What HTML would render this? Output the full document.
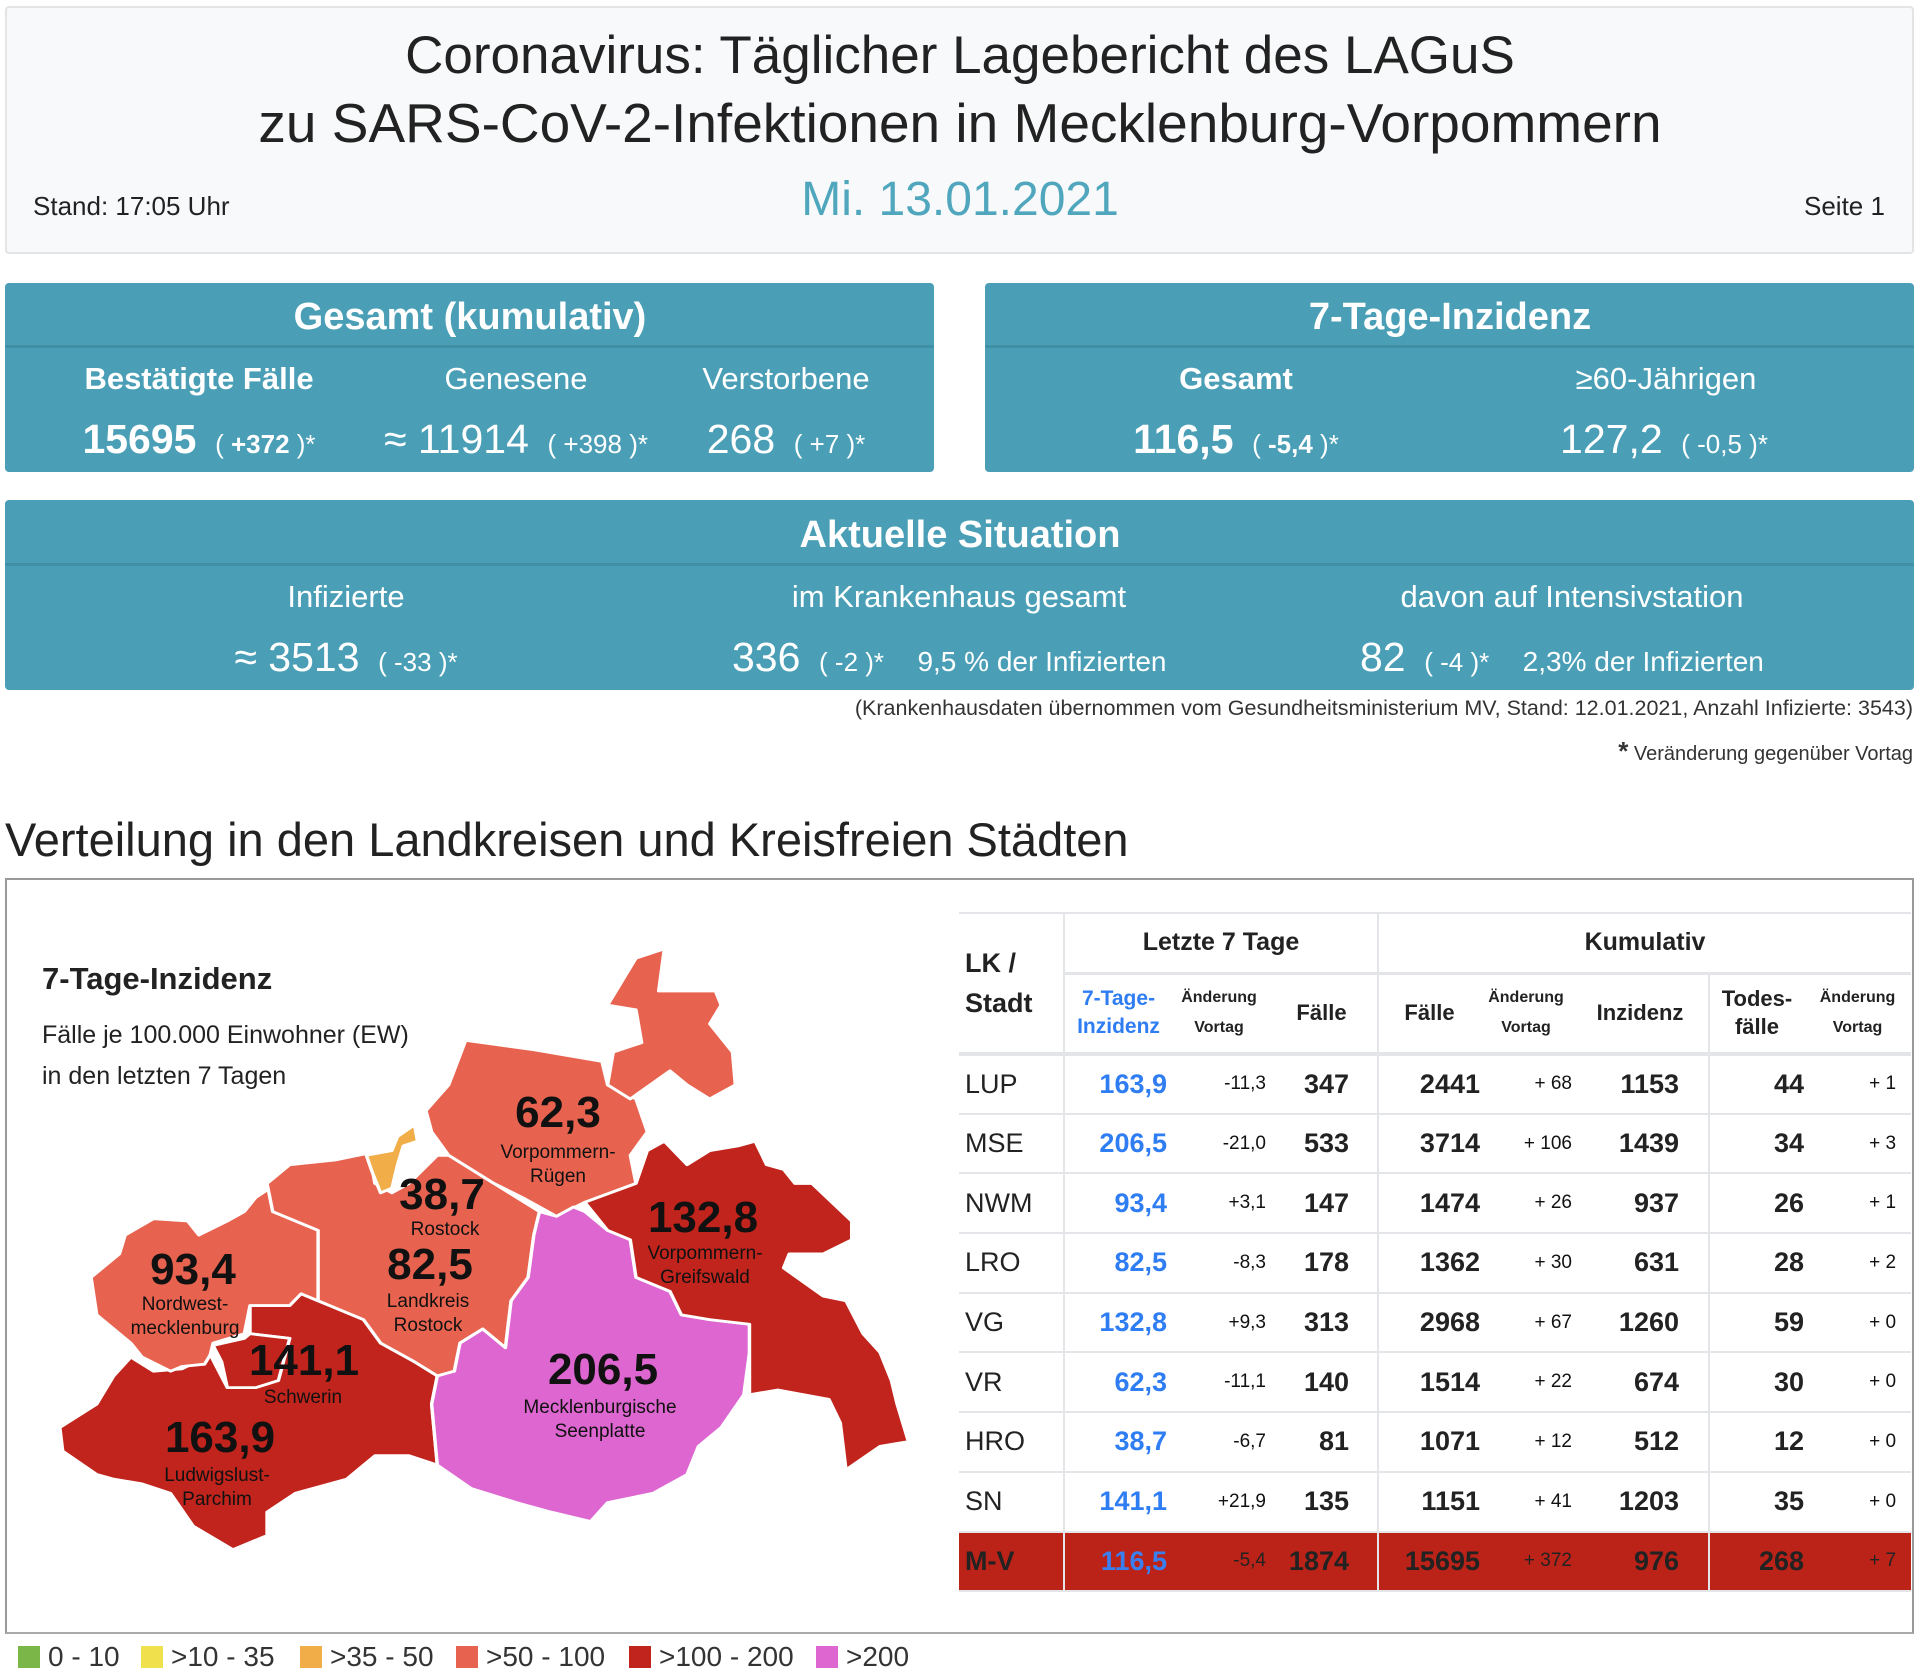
<!DOCTYPE html>
<html><head><meta charset="utf-8"><style>
*{margin:0;padding:0;box-sizing:border-box}
body{width:1920px;height:1666px;background:#fff;position:relative;overflow:hidden;font-family:"Liberation Sans",sans-serif;color:#222}
.a{position:absolute;white-space:nowrap}
.c{transform:translateX(-50%)}
.hdr{left:5px;top:6px;width:1909px;height:248px;background:#f8f9fa;border:2px solid #e2e4e6;border-radius:4px}
.box{background:#4a9fb6;border-radius:4px;color:#fff}
.band{position:absolute;left:0;right:0;border-bottom:3px solid #3f8fa5}
.lab{font-size:31px}
.val{font-size:41px}
.sm{font-size:26px}
table{border-collapse:collapse;position:absolute;left:959px;top:912px;width:952px;table-layout:fixed}
td{height:59.7px;border-bottom:2px solid #e3e5e8;font-size:27px;font-weight:bold;text-align:right;white-space:nowrap;vertical-align:middle}
td.l{text-align:left;padding-left:6px;font-weight:normal}
td.b{color:#2f7df2}
td.ch{font-size:19px;font-weight:normal;color:#111}
.vl{border-right:2px solid #e3e5e8}
tr.h td{font-weight:bold;text-align:center}
tr.mv td{background:#bb2218;color:#222}
tr.mv td.b{color:#3a7ff0}
.lg{position:absolute;top:1643px;font-size:28px;line-height:28px;color:#333;white-space:nowrap}
.lg i{display:inline-block;width:22px;height:22px;vertical-align:-2px;margin-right:8px}
</style></head><body>
<div class="a hdr"></div>
<div class="a c" style="left:960px;top:25px;font-size:53px;color:#222">Coronavirus: Täglicher Lagebericht des LAGuS</div>
<div class="a c" style="left:960px;top:91px;font-size:55px;color:#222">zu SARS-CoV-2-Infektionen in Mecklenburg-Vorpommern</div>
<div class="a c" style="left:960px;top:172px;font-size:48px;color:#4fa6bd">Mi. 13.01.2021</div>
<div class="a" style="left:33px;top:191px;font-size:26px">Stand: 17:05 Uhr</div>
<div class="a" style="left:1804px;top:191px;font-size:26px">Seite 1</div>

<div class="a box" style="left:5px;top:283px;width:929px;height:189px"><div class="band" style="top:0;height:65px"></div></div>
<div class="a c" style="left:470px;top:296px;font-size:38px;font-weight:bold;color:#fff">Gesamt (kumulativ)</div>
<div class="a c lab" style="left:199px;top:361px;color:#fff;font-weight:bold">Bestätigte Fälle</div>
<div class="a c lab" style="left:516px;top:361px;color:#fff">Genesene</div>
<div class="a c lab" style="left:786px;top:361px;color:#fff">Verstorbene</div>
<div class="a c val" style="left:199px;top:416px;color:#fff"><b>15695</b> <span class="sm">&nbsp;( <b>+372</b> )*</span></div>
<div class="a c val" style="left:516px;top:416px;color:#fff">≈ 11914 <span class="sm">&nbsp;( +398 )*</span></div>
<div class="a c val" style="left:786px;top:416px;color:#fff">268 <span class="sm">&nbsp;( +7 )*</span></div>

<div class="a box" style="left:985px;top:283px;width:929px;height:189px"><div class="band" style="top:0;height:65px"></div></div>
<div class="a c" style="left:1450px;top:296px;font-size:38px;font-weight:bold;color:#fff">7-Tage-Inzidenz</div>
<div class="a c lab" style="left:1236px;top:361px;color:#fff;font-weight:bold">Gesamt</div>
<div class="a c lab" style="left:1666px;top:361px;color:#fff">≥60-Jährigen</div>
<div class="a c val" style="left:1236px;top:416px;color:#fff"><b>116,5</b> <span class="sm">&nbsp;( <b>-5,4</b> )*</span></div>
<div class="a c val" style="left:1664px;top:416px;color:#fff">127,2 <span class="sm">&nbsp;( -0,5 )*</span></div>

<div class="a box" style="left:5px;top:500px;width:1909px;height:190px"><div class="band" style="top:0;height:66px"></div></div>
<div class="a c" style="left:960px;top:514px;font-size:38px;font-weight:bold;color:#fff">Aktuelle Situation</div>
<div class="a c lab" style="left:346px;top:579px;color:#fff">Infizierte</div>
<div class="a c lab" style="left:959px;top:579px;color:#fff">im Krankenhaus gesamt</div>
<div class="a c lab" style="left:1572px;top:579px;color:#fff">davon auf Intensivstation</div>
<div class="a c val" style="left:346px;top:634px;color:#fff">≈ 3513 <span class="sm">&nbsp;( -33 )*</span></div>
<div class="a val" style="left:732px;top:634px;color:#fff">336 <span class="sm">&nbsp;( -2 )*</span> <span style="font-size:28px;margin-left:22px">9,5 % der Infizierten</span></div>
<div class="a val" style="left:1360px;top:634px;color:#fff">82 <span class="sm">&nbsp;( -4 )*</span> <span style="font-size:28px;margin-left:22px">2,3% der Infizierten</span></div>

<div class="a" style="right:7px;top:696px;font-size:21.5px;color:#333">(Krankenhausdaten übernommen vom Gesundheitsministerium MV, Stand: 12.01.2021, Anzahl Infizierte: 3543)</div>
<div class="a" style="right:7px;top:736px;font-size:20px;color:#333"><b style="font-size:26px">*</b> Veränderung gegenüber Vortag</div>

<div class="a" style="left:5px;top:812px;font-size:47px;color:#222">Verteilung in den Landkreisen und Kreisfreien Städten</div>
<div class="a" style="left:5px;top:878px;width:1909px;height:756px;border:2px solid #9a9a9a;border-bottom-color:#aaa"></div>

<svg class="a" style="left:40px;top:930px" width="890" height="736" viewBox="0 0 1568 1568" preserveAspectRatio="none">
<g stroke="#fff" stroke-width="6" stroke-linejoin="round">
<polygon fill="#c0241c" points="35,1060 100,1010 130,950 160,910 200,940 250,935 300,905 330,975 380,975 440,870 370,860 370,800 440,800 460,775 490,790 510,800 570,830 600,880 660,920 700,950 690,1010 700,1140 650,1120 590,1120 540,1170 450,1200 400,1240 400,1290 340,1320 270,1270 230,1200 180,1180 130,1170 100,1160 40,1110"/>
<polygon fill="#e8634f" points="90,740 140,690 150,650 200,615 260,620 280,650 330,620 360,600 380,570 405,550 410,600 490,640 490,790 460,775 440,800 370,800 360,860 305,880 300,905 290,925 250,930 230,940 180,910 160,880 100,820"/>
<polygon fill="#c0241c" points="305,885 360,870 370,860 440,870 420,960 380,975 330,975 320,920"/>
<polygon fill="#e8634f" points="400,540 440,500 520,490 580,475 590,540 620,560 650,540 700,480 720,480 800,540 880,600 870,650 860,740 830,790 820,890 800,870 780,850 740,880 730,940 700,950 660,920 600,880 570,830 510,800 490,790 490,640 410,600"/>
<polygon fill="#e8634f" points="680,385 720,330 750,235 870,255 990,280 1000,330 1050,360 1070,430 1040,480 1050,540 960,580 910,610 880,590 850,570 800,540 720,480 690,430"/>
<polygon fill="#e8634f" points="1000,160 1050,60 1100,40 1090,130 1190,130 1200,160 1180,200 1220,260 1225,330 1180,360 1140,330 1110,300 1040,360 1000,330 1010,260 1060,240 1050,170"/>
<polygon fill="#f0ad48" points="575,480 620,470 630,440 660,415 665,450 640,460 630,500 620,550 600,560 585,515"/>
<polygon fill="#dd66d0" points="880,600 910,610 940,590 960,600 1000,640 1040,660 1050,740 1110,770 1130,820 1180,830 1250,840 1250,900 1240,990 1200,1060 1160,1100 1140,1160 1080,1200 1000,1220 970,1260 900,1240 840,1220 760,1190 700,1140 690,1010 700,950 730,940 740,880 780,850 820,890 830,790 860,740 870,650"/>
<polygon fill="#c0241c" points="960,580 1050,540 1070,470 1100,450 1140,500 1180,470 1230,460 1260,450 1280,500 1310,510 1330,540 1360,540 1430,620 1430,660 1380,690 1320,690 1310,720 1380,780 1420,790 1450,860 1480,900 1500,960 1510,1010 1530,1090 1480,1100 1420,1150 1410,1050 1390,1000 1300,980 1250,990 1250,900 1250,840 1180,830 1130,820 1110,770 1050,740 1040,660 1000,640"/>
</g></svg>

<div class="a" style="left:42px;top:961px;font-size:31px;font-weight:bold">7-Tage-Inzidenz</div>
<div class="a" style="left:42px;top:1021px;font-size:25px">Fälle je 100.000 Einwohner (EW)</div>
<div class="a" style="left:42px;top:1062px;font-size:25px">in den letzten 7 Tagen</div>

<div class="a c" style="left:558px;top:1088px;font-size:44px;font-weight:bold;color:#111">62,3</div>
<div class="a c" style="left:558px;top:1141px;font-size:19px;line-height:24px;text-align:center;color:#111">Vorpommern-<br>Rügen</div>
<div class="a c" style="left:442px;top:1170px;font-size:44px;font-weight:bold;color:#111">38,7</div>
<div class="a c" style="left:445px;top:1219px;font-size:19px;color:#111">Rostock</div>
<div class="a c" style="left:430px;top:1240px;font-size:44px;font-weight:bold;color:#111">82,5</div>
<div class="a c" style="left:428px;top:1290px;font-size:19px;line-height:24px;text-align:center;color:#111">Landkreis<br>Rostock</div>
<div class="a c" style="left:703px;top:1193px;font-size:44px;font-weight:bold;color:#111">132,8</div>
<div class="a c" style="left:705px;top:1242px;font-size:19px;line-height:24px;text-align:center;color:#111">Vorpommern-<br>Greifswald</div>
<div class="a c" style="left:193px;top:1245px;font-size:44px;font-weight:bold;color:#111">93,4</div>
<div class="a c" style="left:185px;top:1293px;font-size:19px;line-height:24px;text-align:center;color:#111">Nordwest-<br>mecklenburg</div>
<div class="a c" style="left:304px;top:1336px;font-size:44px;font-weight:bold;color:#111">141,1</div>
<div class="a c" style="left:303px;top:1387px;font-size:19px;color:#111">Schwerin</div>
<div class="a c" style="left:603px;top:1345px;font-size:44px;font-weight:bold;color:#111">206,5</div>
<div class="a c" style="left:600px;top:1396px;font-size:19px;line-height:24px;text-align:center;color:#111">Mecklenburgische<br>Seenplatte</div>
<div class="a c" style="left:220px;top:1413px;font-size:44px;font-weight:bold;color:#111">163,9</div>
<div class="a c" style="left:217px;top:1464px;font-size:19px;line-height:24px;text-align:center;color:#111">Ludwigslust-<br>Parchim</div>

<div class="lg" style="left:18px"><i style="background:#7ab648"></i>0 - 10</div>
<div class="lg" style="left:141px"><i style="background:#f0e04c"></i>&gt;10 - 35</div>
<div class="lg" style="left:300px"><i style="background:#f0ad48"></i>&gt;35 - 50</div>
<div class="lg" style="left:456px"><i style="background:#e8634f"></i>&gt;50 - 100</div>
<div class="lg" style="left:629px"><i style="background:#c0241c"></i>&gt;100 - 200</div>
<div class="lg" style="left:816px"><i style="background:#dd66d0"></i>&gt;200</div>

<table>
<colgroup><col style="width:105px"><col style="width:108px"><col style="width:94px"><col style="width:112px"><col style="width:102px"><col style="width:92px"><col style="width:137px"><col style="width:95px"><col style="width:107px"></colgroup>
<tr class="h" style="border-top:2px solid #e3e5e8"><td rowspan="2" class="vl" style="text-align:left;padding-left:6px;font-size:27px;line-height:40px;border-bottom:4px solid #e3e5e8">LK /<br>Stadt</td><td colspan="3" class="vl" style="height:60px;font-size:25px;border-bottom:3px solid #e3e5e8">Letzte 7 Tage</td><td colspan="5" style="font-size:25px;border-bottom:3px solid #e3e5e8">Kumulativ</td></tr>
<tr class="h" style="border-bottom:4px solid #e3e5e8"><td style="height:81px;color:#2f7df2;font-size:21px;line-height:28px">7-Tage-<br>Inzidenz</td><td style="font-size:16px;line-height:30px">Änderung<br>Vortag</td><td class="vl" style="font-size:22px">Fälle</td><td style="font-size:22px">Fälle</td><td style="font-size:16px;line-height:30px">Änderung<br>Vortag</td><td class="vl" style="font-size:22px">Inzidenz</td><td style="font-size:22px;line-height:28px">Todes-<br>fälle</td><td style="font-size:16px;line-height:30px">Änderung<br>Vortag</td></tr>
<tr><td class="l vl">LUP</td><td class="b" style="padding-right:5px">163,9</td><td class="ch">-11,3</td><td class="vl" style="padding-right:28px">347</td><td>2441</td><td class="ch">+ 68</td><td class="vl" style="padding-right:29px">1153</td><td>44</td><td class="ch" style="padding-right:15px">+ 1</td></tr>
<tr><td class="l vl">MSE</td><td class="b" style="padding-right:5px">206,5</td><td class="ch">-21,0</td><td class="vl" style="padding-right:28px">533</td><td>3714</td><td class="ch">+ 106</td><td class="vl" style="padding-right:29px">1439</td><td>34</td><td class="ch" style="padding-right:15px">+ 3</td></tr>
<tr><td class="l vl">NWM</td><td class="b" style="padding-right:5px">93,4</td><td class="ch">+3,1</td><td class="vl" style="padding-right:28px">147</td><td>1474</td><td class="ch">+ 26</td><td class="vl" style="padding-right:29px">937</td><td>26</td><td class="ch" style="padding-right:15px">+ 1</td></tr>
<tr><td class="l vl">LRO</td><td class="b" style="padding-right:5px">82,5</td><td class="ch">-8,3</td><td class="vl" style="padding-right:28px">178</td><td>1362</td><td class="ch">+ 30</td><td class="vl" style="padding-right:29px">631</td><td>28</td><td class="ch" style="padding-right:15px">+ 2</td></tr>
<tr><td class="l vl">VG</td><td class="b" style="padding-right:5px">132,8</td><td class="ch">+9,3</td><td class="vl" style="padding-right:28px">313</td><td>2968</td><td class="ch">+ 67</td><td class="vl" style="padding-right:29px">1260</td><td>59</td><td class="ch" style="padding-right:15px">+ 0</td></tr>
<tr><td class="l vl">VR</td><td class="b" style="padding-right:5px">62,3</td><td class="ch">-11,1</td><td class="vl" style="padding-right:28px">140</td><td>1514</td><td class="ch">+ 22</td><td class="vl" style="padding-right:29px">674</td><td>30</td><td class="ch" style="padding-right:15px">+ 0</td></tr>
<tr><td class="l vl">HRO</td><td class="b" style="padding-right:5px">38,7</td><td class="ch">-6,7</td><td class="vl" style="padding-right:28px">81</td><td>1071</td><td class="ch">+ 12</td><td class="vl" style="padding-right:29px">512</td><td>12</td><td class="ch" style="padding-right:15px">+ 0</td></tr>
<tr><td class="l vl">SN</td><td class="b" style="padding-right:5px">141,1</td><td class="ch">+21,9</td><td class="vl" style="padding-right:28px">135</td><td>1151</td><td class="ch">+ 41</td><td class="vl" style="padding-right:29px">1203</td><td>35</td><td class="ch" style="padding-right:15px">+ 0</td></tr>
<tr class="mv"><td class="l vl" style="font-weight:bold">M-V</td><td class="b" style="padding-right:5px">116,5</td><td class="ch">-5,4</td><td class="vl" style="padding-right:28px">1874</td><td>15695</td><td class="ch">+ 372</td><td class="vl" style="padding-right:29px">976</td><td>268</td><td class="ch" style="padding-right:15px">+ 7</td></tr>
</table>
</body></html>
